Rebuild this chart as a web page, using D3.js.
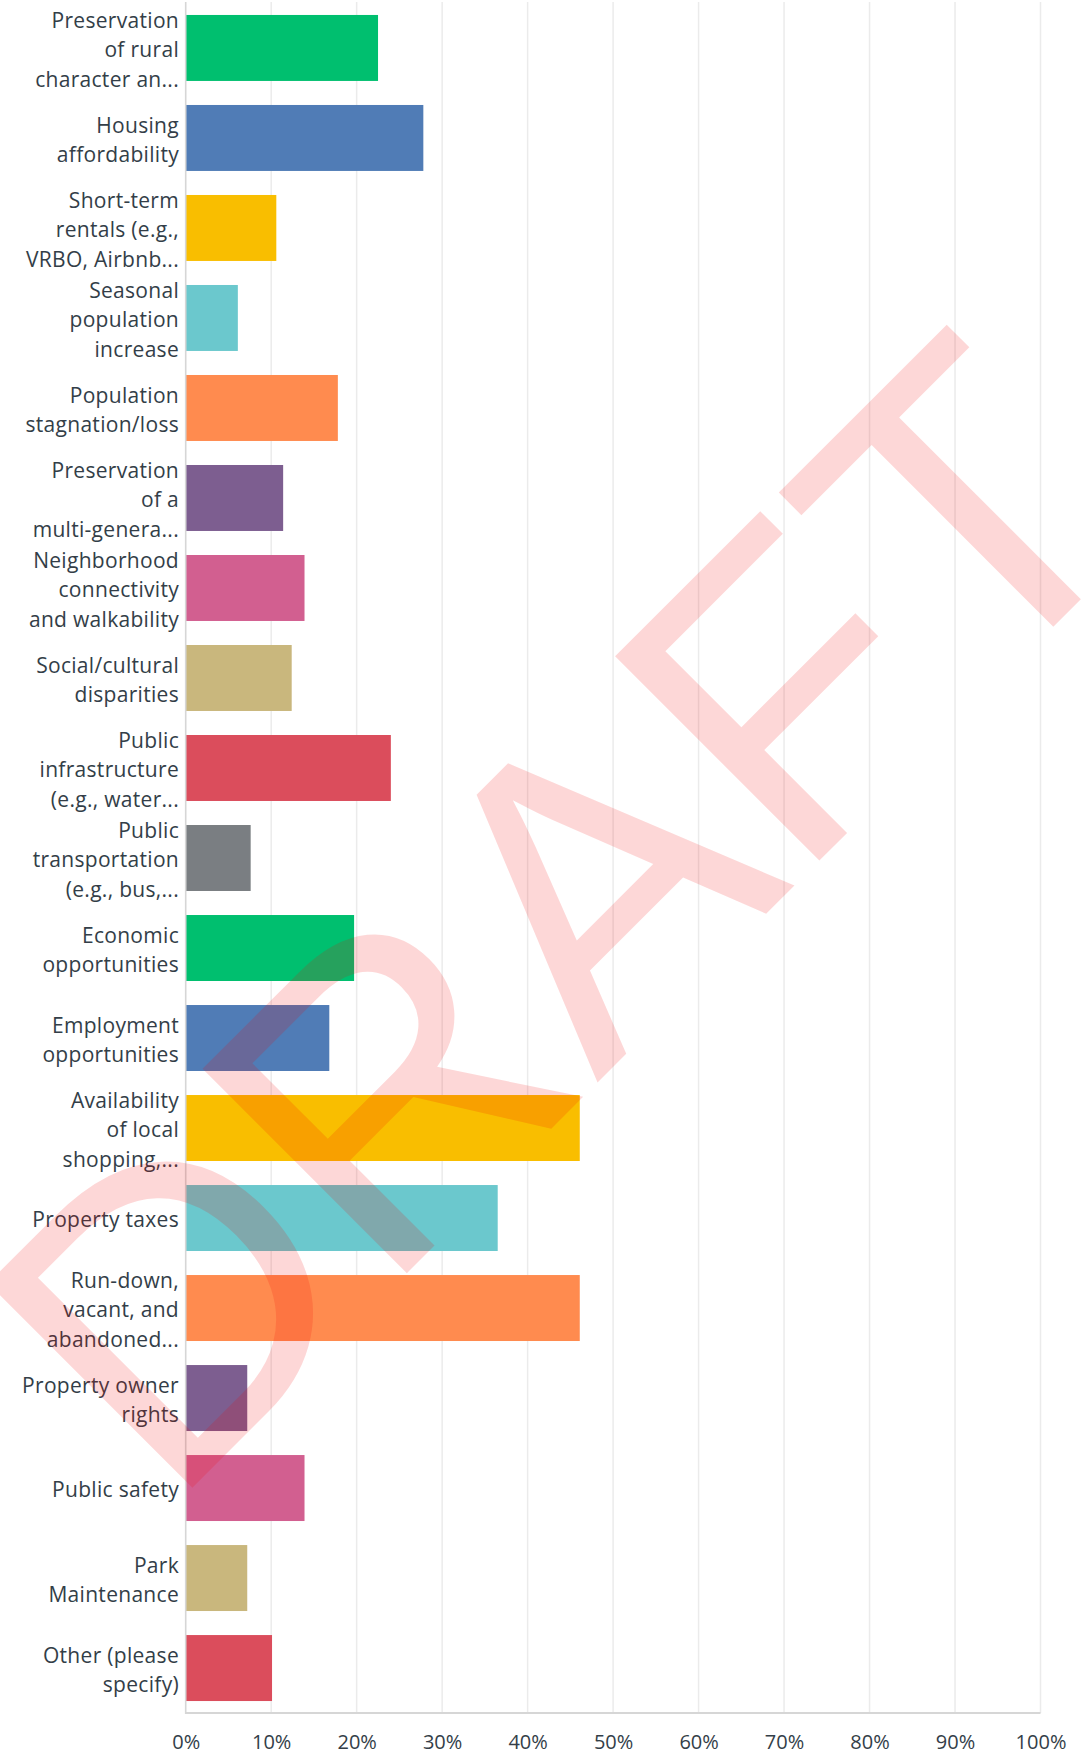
<!DOCTYPE html>
<html>
<head>
<meta charset="utf-8">
<script src="https://cdn.jsdelivr.net/npm/d3@7"></script>
<style>
  html, body { margin: 0; padding: 0; background: #fff; }
  svg { display: block; }
</style>
</head>
<body>
<svg id="chart" width="1084" height="1756"></svg>
<script>
// ---- data ----
const categories = [
  "Preservation\nof rural\ncharacter an...",
  "Housing\naffordability",
  "Short-term\nrentals (e.g.,\nVRBO, Airbnb...",
  "Seasonal\npopulation\nincrease",
  "Population\nstagnation/loss",
  "Preservation\nof a\nmulti-genera...",
  "Neighborhood\nconnectivity\nand walkability",
  "Social/cultural\ndisparities",
  "Public\ninfrastructure\n(e.g., water...",
  "Public\ntransportation\n(e.g., bus,...",
  "Economic\nopportunities",
  "Employment\nopportunities",
  "Availability\nof local\nshopping,...",
  "Property taxes",
  "Run-down,\nvacant, and\nabandoned...",
  "Property owner\nrights",
  "Public safety",
  "Park\nMaintenance",
  "Other (please\nspecify)"
];
const values = [22.5, 27.8, 10.6, 6.1, 17.8, 11.4, 13.9, 12.4, 24.0, 7.6, 19.7, 16.8, 46.1, 36.5, 46.1, 7.2, 13.9, 7.2, 10.1];
const palette = ["#00BF6F", "#507CB6", "#F9BE00", "#6BC8CD", "#FF8B4F", "#7D5E90", "#D25F90", "#C9B77D", "#DB4D5C", "#7A7E82"];
const tickValues = [0, 10, 20, 30, 40, 50, 60, 70, 80, 90, 100];
const watermarkText = "DRAFT";

// ---- layout ----
(function () {
const svg = d3.select("#chart");
const mLeft = 185.7, mRight = 1040.5, mTop = 3, mBottom = 1713;
const x = d3.scaleLinear().domain([0, 100]).range([mLeft, mRight]);
const y = d3.scaleBand().domain(d3.range(categories.length)).range([mTop, mBottom])
  .paddingInner(0.267).paddingOuter(0.133);

// gridlines
svg.append("g").selectAll("line").data(tickValues.slice(1)).join("line")
  .attr("x1", d => x(d)).attr("x2", d => x(d))
  .attr("y1", 2).attr("y2", mBottom)
  .attr("stroke", "#ebebeb").attr("stroke-width", 1.5);

// bars
svg.append("g").selectAll("rect").data(values).join("rect")
  .attr("x", x(0))
  .attr("y", (d, i) => y(i))
  .attr("width", d => x(d) - x(0))
  .attr("height", y.bandwidth())
  .attr("fill", (d, i) => palette[i % palette.length]);

// axis lines
svg.append("line").attr("x1", mLeft).attr("x2", mLeft).attr("y1", 2).attr("y2", mBottom + 1)
  .attr("stroke", "#d6d6d6").attr("stroke-width", 1.6);
svg.append("line").attr("x1", mLeft).attr("x2", mRight).attr("y1", mBottom).attr("y2", mBottom)
  .attr("stroke", "#d6d6d6").attr("stroke-width", 1.8);

// x axis tick labels
const xAxis = d3.axisBottom(x).tickValues(tickValues).tickFormat(d => d + "%").tickSize(0).tickPadding(0);
const gx = svg.append("g").attr("transform", `translate(0, ${mBottom})`).call(xAxis);
gx.select(".domain").remove();
gx.selectAll("text")
  .attr("y", 36).attr("dy", null)
  .attr("fill", "#333e48")
  .style("font-family", "'Open Sans', sans-serif")
  .style("font-size", "20px");

// category labels
const lh = 29.3;
const labels = svg.append("g")
  .style("font-family", "'Open Sans', sans-serif")
  .style("font-size", "21px")
  .attr("fill", "#333e48")
  .attr("text-anchor", "end");
categories.forEach((c, i) => {
  const lines = c.split("\n");
  const cy = y(i) + y.bandwidth() / 2;
  const t = labels.append("text").style("letter-spacing", "0.3px");
  lines.forEach((ln, j) => {
    t.append("tspan").attr("x", 179)
      .attr("y", cy + 9.4 + (j - (lines.length - 1) / 2) * lh)
      .text(ln);
  });
});

// watermark
svg.append("text")
  .attr("transform", "translate(168, 1512) rotate(-45)")
  .style("font-family", "'Liberation Sans', Arial, sans-serif")
  .style("font-size", "420px")
  .attr("fill", "rgba(245, 0, 0, 0.155)")
  .text(watermarkText);
})();
</script>
</body>
</html>
